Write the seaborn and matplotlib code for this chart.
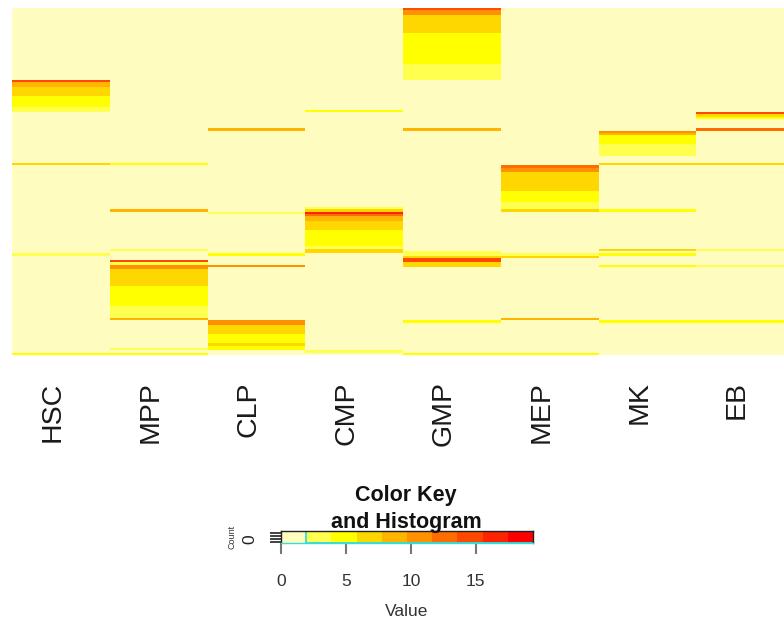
import numpy as np
import pandas as pd
import matplotlib
matplotlib.use("Agg")
import matplotlib.pyplot as plt
import matplotlib.transforms as mtransforms
from matplotlib.colors import ListedColormap
import seaborn as sns

sns.set_style("white")
plt.rcParams['font.family'] = ['Liberation Sans', 'DejaVu Sans']

# ---------------- data ----------------
cell_types = ["HSC", "MPP", "CLP", "CMP", "GMP", "MEP", "MK", "EB"]
n_genes = 150
# sparse expression: (first_gene_row, last_gene_row, value); all other cells ~0
HSC = [(31, 31, 14.5), (32, 33, 9), (34, 37, 7), (38, 42, 5), (43, 44, 3),
       (67, 67, 6.5), (106, 106, 3), (149, 149, 4.5)]
MPP = [(67, 67, 5), (87, 87, 8.5), (104, 104, 3), (109, 109, 15), (110, 110, 3),
       (111, 112, 10), (113, 119, 7), (120, 128, 5), (129, 133, 3), (134, 134, 8),
       (147, 147, 2.5), (149, 149, 4.5)]
CLP = [(52, 52, 9.5), (88, 88, 3), (106, 106, 4.5), (111, 111, 11),
       (135, 136, 10.5), (137, 140, 7), (141, 144, 5), (145, 145, 7), (146, 147, 4.5)]
CMP = [(44, 44, 4.5), (86, 86, 3), (87, 87, 7), (88, 88, 16), (89, 89, 12),
       (90, 91, 9), (92, 95, 7), (96, 102, 5), (103, 103, 3), (104, 105, 7), (148, 148, 3)]
GMP = [(0, 0, 14), (1, 2, 10), (3, 10, 7), (11, 23, 5), (24, 30, 3), (52, 52, 9.5),
       (105, 106, 3), (107, 107, 7), (108, 109, 14), (110, 111, 7), (135, 135, 4.5),
       (149, 149, 4.5)]
MEP = [(68, 68, 13), (69, 70, 10), (71, 78, 7), (79, 83, 5), (84, 86, 3), (87, 87, 7),
       (106, 106, 3), (107, 107, 7), (134, 134, 9), (149, 149, 4.5)]
MK = [(53, 53, 10), (54, 54, 8), (55, 58, 5), (59, 63, 3), (67, 67, 6.5),
      (87, 87, 4.5), (104, 104, 6), (106, 106, 4), (111, 111, 4.5), (135, 135, 4.5)]
EB = [(45, 45, 15), (46, 46, 7), (47, 47, 5), (52, 52, 12.5), (67, 67, 6),
      (104, 104, 3), (111, 111, 3), (135, 135, 4.5)]
columns_data = [HSC, MPP, CLP, CMP, GMP, MEP, MK, EB]

vmax = 19.4
key_ticks = [0, 5, 10, 15]
palette = ["#FFFCC0", "#FFFF50", "#FFFF00", "#FFD700", "#FFB400",
           "#FF9000", "#FF6C00", "#FF4800", "#FF2400", "#FF0000"]

# -------------- build matrix -----------
mat = np.zeros((n_genes, len(cell_types)))
for j, segs in enumerate(columns_data):
    for a, b, v in segs:
        mat[a:b + 1, j] = v
df = pd.DataFrame(mat, columns=cell_types)
cmap = ListedColormap(palette)

# -------------- figure -----------------
fig = plt.figure(figsize=(7.84, 6.21), dpi=100)
ax = fig.add_axes([12 / 784, 1 - 355 / 621, 782 / 784, 347 / 621])
sns.heatmap(df, cmap=cmap, vmin=0, vmax=vmax, cbar=False, ax=ax,
            xticklabels=cell_types, yticklabels=False)
ax.set_xticklabels(cell_types, rotation=90, fontsize=20.5, color="#1a1a1a")
ax.tick_params(axis="x", length=0, pad=19)
ax.set_ylabel("")
shift = mtransforms.ScaledTranslation(-8 / 100, 0, fig.dpi_scale_trans)
for lab in ax.get_xticklabels():
    lab.set_transform(lab.get_transform() + shift)

# -------------- color key ---------------
kx = fig.add_axes([281 / 784, 1 - 543 / 621, 252 / 784, 12 / 621])
breaks = np.linspace(0, vmax, len(palette) + 1)
mids = (breaks[:-1] + breaks[1:]) / 2
kx.pcolormesh(breaks, [0, 1], mids[np.newaxis, :], cmap=cmap, vmin=0, vmax=vmax)
# histogram outline (nearly all counts in the first bin)
hx = [0, 0, breaks[1], breaks[1], vmax]
hy = [0.02, 0.98, 0.98, 0.02, 0.02]
kx.plot(hx, hy, color="#33DDDD", lw=1.3, solid_joinstyle="miter")
kx.set_xlim(0, vmax)
kx.set_ylim(0, 1)
for s in kx.spines.values():
    s.set_color("#222222")
    s.set_linewidth(1.0)
kx.spines["bottom"].set_color("#33DDDD")
kx.set_xticks(key_ticks)
kx.set_xticklabels([str(t) for t in key_ticks], fontsize=12.5, color="#333333")
kx.tick_params(axis="x", length=8, width=1.5, color="#777777", pad=14, bottom=True)
kx.set_yticks([0.1, 0.35, 0.6, 0.85])
kx.set_yticklabels(["", "0", "", ""], fontsize=12.5, rotation=90, va="center",
                   color="#222222")
kx.tick_params(axis="y", length=8, width=1.3, color="#333333", pad=9, left=True)
kx.set_xlabel("Value", fontsize=12.5, color="#333333", labelpad=11)
kx.set_ylabel("Count", fontsize=6.5, color="#333333", labelpad=4)

fig.text(406 / 784, 1 - 509 / 621, "Color Key\nand Histogram", ha="center",
         va="center", fontsize=15.5, fontweight="bold", linespacing=1.35,
         color="#111111")

fig.savefig("out.png", dpi=100)
